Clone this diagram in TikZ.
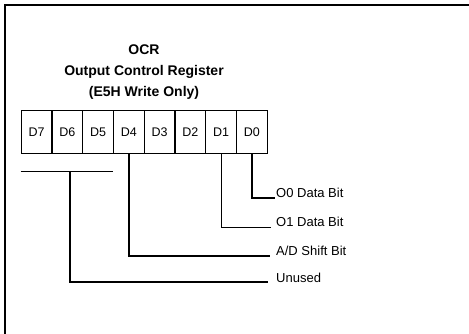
\documentclass[tikz,border=0pt]{standalone}
\usepackage{fontspec}
\setmainfont{Liberation Sans}
\begin{document}
\begin{tikzpicture}[x=1pt,y=-1pt,
  cell/.style={draw,line width=1.1pt,minimum width=30.75pt,minimum height=43pt,inner sep=0pt,font=\fontsize{12.5}{14}\selectfont,anchor=north west},
  title/.style={font=\bfseries\fontsize{14}{16}\selectfont,inner sep=0pt},
  lbl/.style={font=\fontsize{13}{15}\selectfont,anchor=base west,inner sep=0pt},
  wire/.style={line width=1.4pt},
  thin wire/.style={line width=1pt}]
\useasboundingbox (0,0) rectangle (469,334);
\draw[line width=1.5pt] (5,334) -- (5,5) -- (469,5);
\node[title] (t1) at (144,50) {OCR};
\node[title] (t2) at (144,72) {Output Control Register};
\node[title] (t3) at (144,93) {(E5H Write Only)};
\foreach \n [count=\i from 0] in {7,6,5,4,3,2,1,0} {
  \node[cell] (d\n) at (20.7+30.75*\i,110) {D\n};
}
\coordinate (ua) at (20.7,172);
\coordinate (ub) at (113.3,172);
\coordinate (uc) at (70,172);
\draw[thin wire] (ua) -- (ub);
\node[lbl] (l0) at (276,198) {O0 Data Bit};
\node[lbl] (l1) at (276,226.5) {O1 Data Bit};
\node[lbl] (l4) at (276,255) {A/D Shift Bit};
\node[lbl] (lu) at (276,283) {Unused};
\draw[wire] (d0.south) |- ([xshift=-1pt]l0.base west);
\draw[thin wire] (d1.south) |- ([xshift=-5pt,yshift=-1pt]l1.base west);
\draw[wire] (d4.south) |- ([xshift=-6pt,yshift=-1pt]l4.base west);
\draw[wire] (uc) |- ([xshift=-8pt,yshift=1pt]lu.base west);
\end{tikzpicture}
\end{document}
